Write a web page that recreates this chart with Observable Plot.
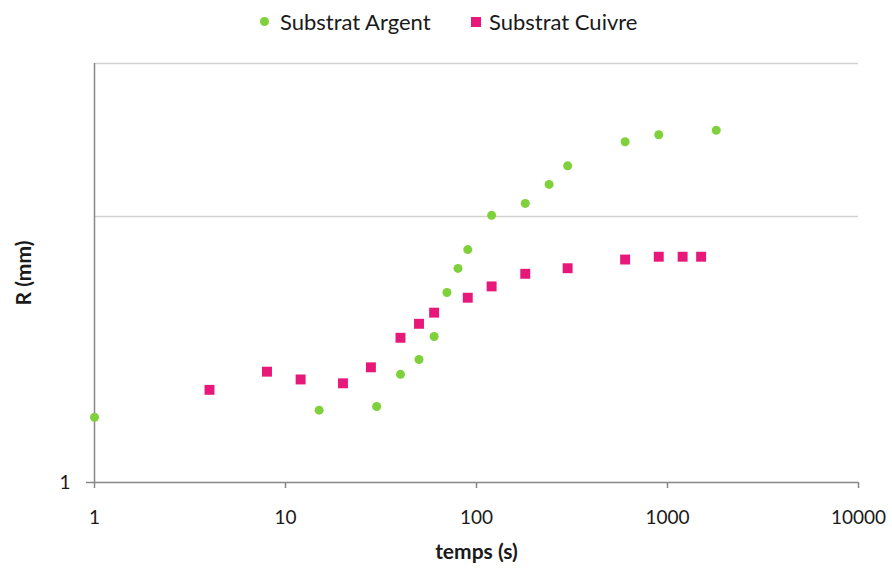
<!DOCTYPE html>
<html>
<head>
<meta charset="utf-8">
<script src="https://cdn.jsdelivr.net/npm/d3@7"></script>
<script src="https://cdn.jsdelivr.net/npm/@observablehq/plot@0.6"></script>
<style>
  html, body { margin: 0; padding: 0; background: #fff; }
  #wrap { position: relative; width: 892px; height: 574px; font-family: Lato, "Open Sans", sans-serif; }
  .leg { position: absolute; top: 8px; font-size: 22px; color: #1a1a1a; line-height: 28px; white-space: nowrap; }
  .sw { position: absolute; }
</style>
</head>
<body>
<div id="wrap">
  <div class="sw" style="left:260px; top:17px; width:9px; height:9px; border-radius:50%; background:#7fd13b;"></div>
  <div class="leg" style="left:280px;">Substrat Argent</div>
  <div class="sw" style="left:471px; top:17px; width:10px; height:10px; background:#e8177a;"></div>
  <div class="leg" style="left:489px;">Substrat Cuivre</div>
  <div id="chart" style="position:absolute; left:0; top:0;"></div>
</div>
<script>
// Substrat Argent (green)
const argentT = [1, 15, 30, 40, 50, 60, 70, 80, 90, 120, 180, 240, 300, 600, 900, 1800];
const argentR = [1.76, 1.87, 1.93, 2.55, 2.90, 3.54, 5.18, 6.38, 7.51, 10.1, 11.2, 13.2, 15.5, 19.1, 20.3, 21.1];
// Substrat Cuivre (pink)
const cuivreT = [4, 8, 12, 20, 28, 40, 50, 60, 90, 120, 180, 300, 600, 900, 1200, 1500];
const cuivreR = [2.23, 2.61, 2.44, 2.36, 2.71, 3.50, 3.95, 4.35, 4.95, 5.46, 6.09, 6.39, 6.89, 7.06, 7.06, 7.06];
// Axes
const xTicks = [1, 10, 100, 1000, 10000];
const yTicks = [1];
const yMax = 37.6;
const yGrid = [10, yMax];

const argent = argentT.map((t, i) => ({t, r: argentR[i]}));
const cuivre = cuivreT.map((t, i) => ({t, r: cuivreR[i]}));

const chart = Plot.plot({
  width: 892,
  height: 574,
  marginLeft: 94,
  marginRight: 34,
  marginTop: 63,
  marginBottom: 92,
  style: {fontFamily: "Lato, 'Open Sans', sans-serif", color: "#1a1a1a", background: "transparent"},
  x: {type: "log", domain: [1, 10000]},
  y: {type: "log", domain: [1, yMax]},
  marks: [
    Plot.ruleY(yGrid, {stroke: "#d2d2d2", strokeWidth: 1.5}),
    Plot.ruleY([1], {stroke: "#878787", strokeWidth: 1.5}),
    Plot.ruleX([1], {stroke: "#878787", strokeWidth: 1.5}),
    Plot.axisX({ticks: xTicks, tickFormat: d3.format("d"), tickSize: 6, tickPadding: 22, fontSize: 19, stroke: "#878787", strokeWidth: 1.5, label: null}),
    Plot.axisY({ticks: yTicks, tickFormat: d3.format("d"), tickSize: 8, tickPadding: 16, fontSize: 19, stroke: "#878787", strokeWidth: 1.5, label: null}),
    Plot.text(["temps (s)"], {frameAnchor: "bottom", dy: 76, fontSize: 21, fontWeight: "bold", fill: "#1a1a1a"}),
    Plot.text(["R (mm)"], {frameAnchor: "left", textAnchor: "middle", rotate: -90, dx: -70, fontSize: 21, fontWeight: "bold", fill: "#1a1a1a"}),
    Plot.dot(cuivre, {x: "t", y: "r", symbol: "square", r: 5.6, fill: "#e8177a", stroke: "none"}),
    Plot.dot(argent, {x: "t", y: "r", symbol: "circle", r: 4.5, fill: "#7fd13b", stroke: "none"})
  ]
});
document.getElementById("chart").appendChild(chart);
</script>
</body>
</html>
